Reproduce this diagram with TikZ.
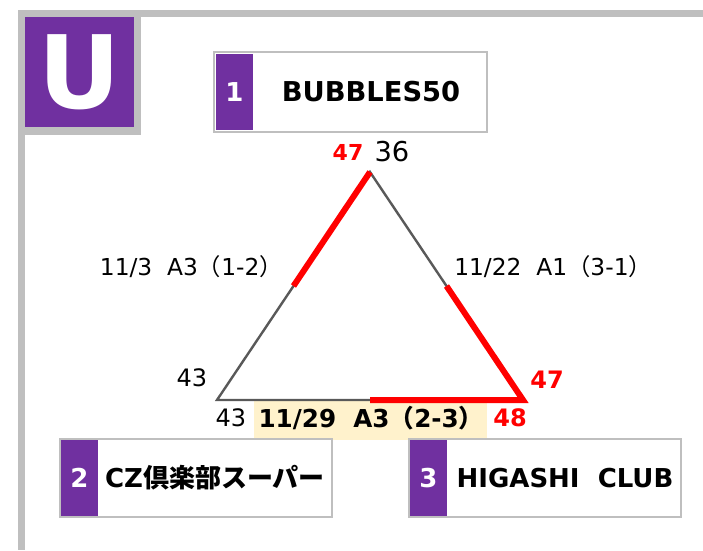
\documentclass[tikz,border=0pt]{standalone}
\usepackage{fontspec}
\setmainfont{DejaVu Sans}
\newfontfamily\cjk{Noto Sans CJK JP}
\usetikzlibrary{positioning}
\definecolor{upurple}{RGB}{112,48,160}
\definecolor{framegray}{RGB}{191,191,191}
\definecolor{linegray}{RGB}{89,89,89}
\definecolor{hlyellow}{RGB}{255,242,204}

\begin{document}
\begin{tikzpicture}[x=0.75pt,y=0.75pt,yscale=-1,xscale=1,
	score/.style={inner sep=0.75pt,font=\fontsize{18}{20}\selectfont},
	redscore/.style={inner sep=0.75pt,text=red,font=\fontsize{18}{20}\selectfont\bfseries},
	match/.style={inner sep=0.75pt,font=\fontsize{17.5}{19}\selectfont},
	teamno/.style={inner sep=0.75pt,text=white,font=\fontsize{19.5}{21}\selectfont\bfseries},
	teamname/.style={inner sep=0.75pt,font=\fontsize{19.5}{21}\selectfont\bfseries},
	edge/.style={color=linegray,line width=1.8pt},
	won/.style={color=red,line width=4.5pt,line join=miter}]
	\useasboundingbox (0,0) rectangle (703,550);
	% frame
	\fill [framegray] (18,10) rectangle (703,17);
	\fill [framegray] (18,10) rectangle (25,550);
	% group letter
	\fill [framegray] (25,17) rectangle (141,135);
	\fill [upurple] (25,17) rectangle (134,127);
	\draw (79.5,72) node (grp) [text=white,inner sep=0pt,font=\fontsize{76}{76}\selectfont\bfseries] {U};
	% teams
	\fill [upurple] (216,54) rectangle (253,130);
	\draw [framegray,line width=1.5pt] (214,52) rectangle (487,132);
	\draw (234.5,92) node (no1) [teamno] {1};
	\draw (371,92) node (team1) [teamname,font=\fontsize{20.5}{22}\selectfont\bfseries] {BUBBLES50};
	\fill [upurple] (61,440) rectangle (98,516);
	\fill [hlyellow] (254,401) rectangle (487,440);
	\draw [framegray,line width=1.5pt] (60,439) rectangle (332,517);
	\draw (79.5,478) node (no2) [teamno] {2};
	\draw (215,478) node (team2) [teamname] {CZ{\cjk\bfseries 倶楽部スーパー}};
	\fill [upurple] (410,440) rectangle (447,516);
	\draw [framegray,line width=1.5pt] (409,439) rectangle (681,517);
	\draw (428.5,478) node (no3) [teamno] {3};
	\draw (565,478) node (team3) [teamname] {HIGASHI\ \ CLUB};
	% triangle
	\coordinate (apex) at (370,172);
	\coordinate (bl) at (217,400);
	\coordinate (br) at (523,400);
	\coordinate (ml) at (293.5,286);
	\coordinate (mr) at (446.5,286);
	\coordinate (mb) at (370,400);
	\draw [edge] (apex) -- (bl) -- (br) -- cycle;
	\draw [won] (apex) -- (ml);
	\draw [won] (mr) -- (br) -- (mb);
	% scores
	\draw (348,152) node (s1a) [redscore,font=\fontsize{16.5}{18}\selectfont\bfseries] {47};
	\draw (392,152) node (s1b) [score,font=\fontsize{20.5}{22}\selectfont] {36};
	\draw (192,378) node (s2a) [score] {43};
	\draw (231,418) node (s2b) [score] {43};
	\draw (510,418) node (s3b) [redscore] {48};
	\draw (547,380) node (s3a) [redscore] {47};
	% matches
	\draw (284,267) node (m12) [match,anchor=east] {11/3\ \ A3{\cjk （}1-2{\cjk ）}};
	\draw (453,267) node (m31) [match,anchor=west] {11/22\ \ A1{\cjk （}3-1{\cjk ）}};
	\draw (371,418) node (m23) [match,font=\fontsize{18.5}{20}\selectfont\bfseries] {11/29\ \ A3{\cjk\bfseries （}2-3{\cjk\bfseries ）}};
\end{tikzpicture}
\end{document}
